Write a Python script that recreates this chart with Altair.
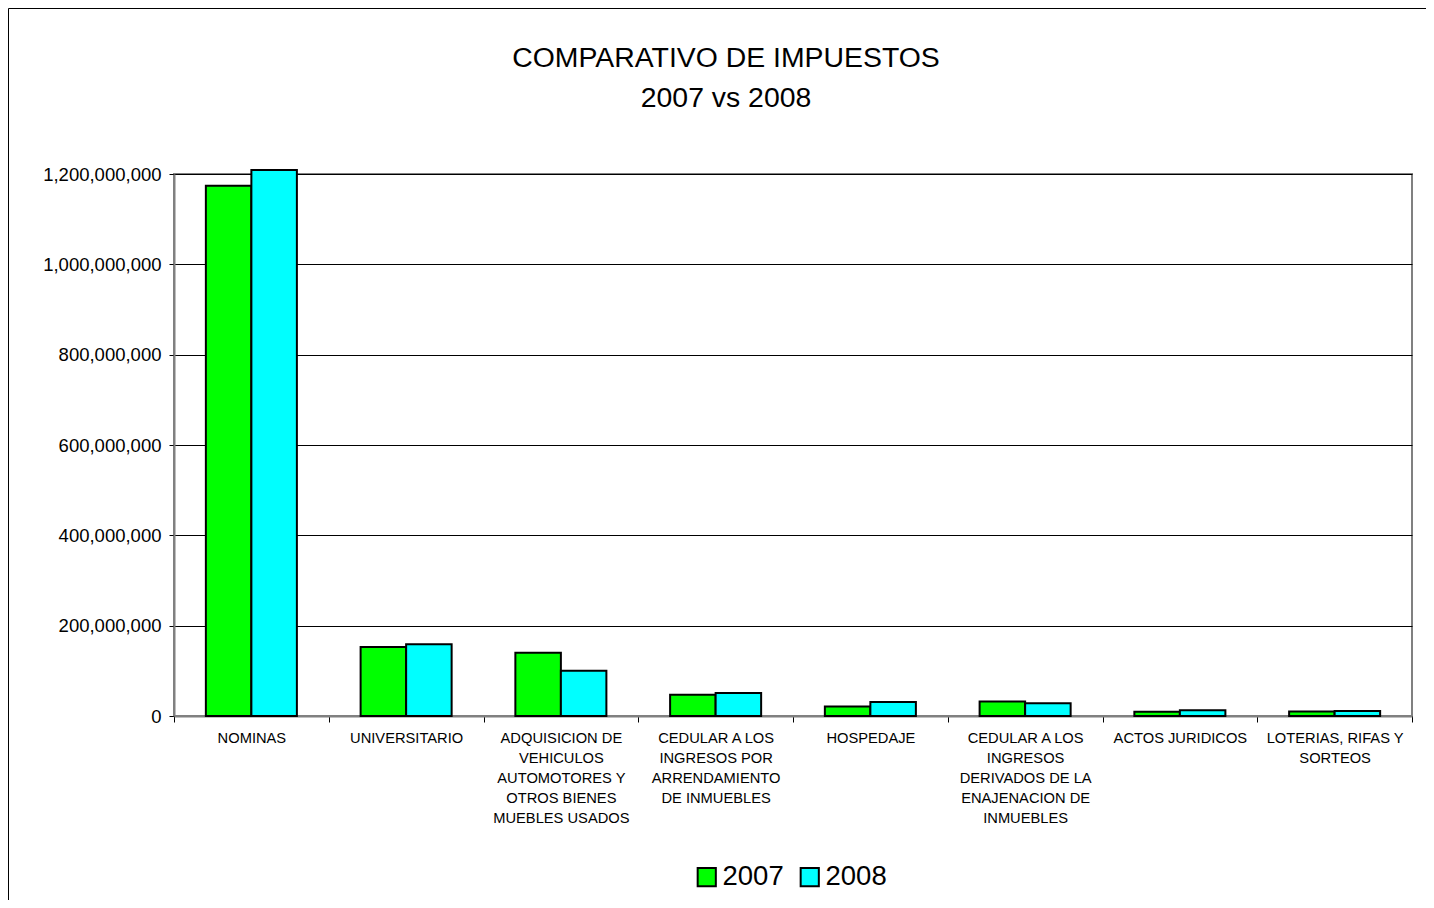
import altair as alt
import pandas as pd

categories = [
    "NOMINAS",
    "UNIVERSITARIO",
    "ADQUISICION DE|VEHICULOS|AUTOMOTORES Y|OTROS BIENES|MUEBLES USADOS",
    "CEDULAR A LOS|INGRESOS POR|ARRENDAMIENTO|DE INMUEBLES",
    "HOSPEDAJE",
    "CEDULAR A LOS|INGRESOS|DERIVADOS DE LA|ENAJENACION DE|INMUEBLES",
    "ACTOS JURIDICOS",
    "LOTERIAS, RIFAS Y|SORTEOS",
]
values_2007 = [1174e6, 153e6, 140e6, 47e6, 21e6, 32e6, 9.5e6, 10e6]
values_2008 = [1209e6, 159e6, 100e6, 51e6, 31e6, 28e6, 13e6, 11e6]
years = ["2007", "2008"]
colors = ["#00FF00", "#00FFFF"]
y_ticks = [0, 200e6, 400e6, 600e6, 800e6, 1000e6, 1200e6]
title_lines = ["COMPARATIVO DE IMPUESTOS", "2007 vs 2008"]

rows = []
for c, v1, v2 in zip(categories, values_2007, values_2008):
    rows.append({"cat": c, "year": "2007", "value": v1})
    rows.append({"cat": c, "year": "2008", "value": v2})
df = pd.DataFrame(rows)

W, H = 1238, 542

bars = alt.Chart(df).mark_bar(stroke="black", strokeWidth=2).encode(
    x=alt.X("cat:N", sort=categories,
            scale=alt.Scale(paddingInner=0, paddingOuter=0),
            axis=alt.Axis(title=None, labelAngle=0, labelFontSize=14.7,
                          labelLineHeight=20,
                          labelExpr="isValid(datum.value) ? split(datum.value, '|') : ''",
                          labelPadding=8, tickSize=6, tickBand="extent",
                          domainColor="#808080", domainWidth=2, tickColor="black",
                          tickWidth=1, labelColor="black", grid=False)),
    xOffset=alt.XOffset("year:N", sort=years,
                        scale=alt.Scale(paddingInner=0, paddingOuter=0.7)),
    y=alt.Y("value:Q", scale=alt.Scale(domain=[0, 1.2e9], nice=False),
            axis=alt.Axis(title=None, values=y_ticks, format=",d", labelFontSize=18.5,
                          tickSize=5, labelPadding=8, grid=True, gridColor="black",
                          gridWidth=1, domainColor="#808080", domainWidth=2,
                          tickColor="black", tickWidth=1, labelColor="black")),
    color=alt.Color("year:N", scale=alt.Scale(domain=years, range=colors),
                    legend=alt.Legend(title=None, orient="none", legendX=519, legendY=689,
                                      direction="horizontal", symbolType="square",
                                      symbolSize=330, symbolStrokeColor="black",
                                      symbolStrokeWidth=2, labelFontSize=27.5,
                                      labelOffset=2, columnPadding=12, labelColor="black")),
)

frame = alt.Chart(alt.Data(values=[{}])).mark_rect(
    fill=None, stroke="black", strokeWidth=1
).encode(
    x=alt.value(-165.5), x2=alt.value(W + 200), y=alt.value(-165.5), y2=alt.value(H + 300)
)

title1 = alt.Chart(alt.Data(values=[{"t": title_lines[0]}])).mark_text(
    fontSize=28.4, baseline="alphabetic", align="center", color="black"
).encode(text="t:N", x=alt.value(552), y=alt.value(-107.5))
title2 = alt.Chart(alt.Data(values=[{"t": title_lines[1]}])).mark_text(
    fontSize=28.4, baseline="alphabetic", align="center", color="black"
).encode(text="t:N", x=alt.value(552), y=alt.value(-67.5))

chart = alt.layer(frame, bars, title1, title2).properties(
    width=W, height=H,
    padding={"left": 166, "top": 166, "right": 14, "bottom": 184},
    autosize=alt.AutoSizeParams(type="none"),
).configure(font="Liberation Sans").configure_view(stroke="#808080", strokeWidth=2)

chart.save("out.html", embed_options={"renderer": "svg", "actions": False})
